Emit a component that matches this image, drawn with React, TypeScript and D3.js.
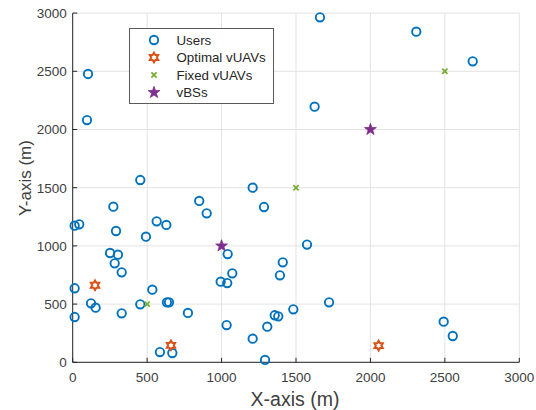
import React from "react";
import * as d3 from "d3";

const usersX = [103, 96, 454, 1209, 1661, 2308, 2687, 1625, 273, 13, 44, 291, 492, 564, 629, 850, 900, 1285, 251, 304, 282, 329, 13, 123, 154, 13, 329, 454, 535, 633, 647, 774, 586, 669, 1041, 994, 1038, 1072, 1034, 1209, 1292, 1307, 1574, 1411, 1392, 1722, 1482, 1357, 1381, 2492, 2553];
const usersY = [2477, 2081, 1566, 1500, 2964, 2840, 2586, 2196, 1337, 1174, 1185, 1128, 1079, 1211, 1180, 1386, 1280, 1334, 939, 925, 850, 773, 636, 507, 469, 389, 421, 498, 624, 515, 515, 424, 88, 80, 930, 693, 681, 764, 320, 203, 20, 306, 1011, 859, 747, 515, 455, 404, 395, 349, 226];
const optX = [150, 660, 2055];
const optY = [662, 146, 143];
const fixedX = [500, 1500, 2500];
const fixedY = [500, 1500, 2500];
const bsX = [1000, 2000];
const bsY = [1000, 2000];
const xTicks = [0, 500, 1000, 1500, 2000, 2500, 3000];
const yTicks = [0, 500, 1000, 1500, 2000, 2500, 3000];
const legendLabels = ["Users", "Optimal vUAVs", "Fixed vUAVs", "vBSs"];

const C_USER = "#0072BD";
const C_OPT = "#D95319";
const C_FIX = "#77AC30";
const C_BS = "#7E2F8E";
const FONT = "'Liberation Sans', Arial, Helvetica, sans-serif";

function starPath(points: number, rOuter: number, rInner: number) {
  const pts: [number, number][] = d3.range(points * 2).map((i) => {
    const a = (Math.PI * i) / points - Math.PI / 2;
    const r = i % 2 === 0 ? rOuter : rInner;
    return [r * Math.cos(a), r * Math.sin(a)];
  });
  return "M" + pts.map((p) => p.join(",")).join("L") + "Z";
}

const hexagram = starPath(6, 4.8, 4.8 / Math.sqrt(3));
const pentagram = starPath(5, 6.2, 6.2 * 0.4);

function UserMark({ x, y }: { x: number; y: number }) {
  return <circle cx={x} cy={y} r={4.2} fill="none" stroke={C_USER} strokeWidth={1.9} />;
}
function OptMark({ x, y }: { x: number; y: number }) {
  return <path d={hexagram} transform={`translate(${x},${y})`} fill="#fff" stroke={C_OPT} strokeWidth={2} strokeLinejoin="miter" />;
}
function FixMark({ x, y }: { x: number; y: number }) {
  const s = 2.6;
  return (
    <g transform={`translate(${x},${y})`} stroke={C_FIX} strokeWidth={1.7}>
      <line x1={-s} y1={-s} x2={s} y2={s} />
      <line x1={-s} y1={s} x2={s} y2={-s} />
    </g>
  );
}
function BsMark({ x, y }: { x: number; y: number }) {
  return <path d={pentagram} transform={`translate(${x},${y})`} fill={C_BS} stroke={C_BS} strokeWidth={0.8} />;
}

export default function App() {
  const W = 536, H = 410;
  const x = d3.scaleLinear().domain([0, 3000]).range([72.7, 519.3]);
  const y = d3.scaleLinear().domain([0, 3000]).range([362.3, 13.1]);
  const x0 = x(0), y0 = y(0);
  const axisColor = "#262626";
  const tickColor = "#404040";
  const legend = { x: 129.5, y: 28.5, w: 144, h: 75 };
  const rowY = [40, 57.5, 75, 92.5];
  const markX = 154;
  const textX = 176.5;

  return (
    <svg width={W} height={H} style={{ position: "absolute", left: 0, top: 0, background: "#fff" }} fontFamily={FONT}>
      <rect width={W} height={H} fill="#fff" />
      {/* grid */}
      <g stroke="#e3e3e3" strokeWidth={1}>
        {xTicks.map((t) => (
          <line key={"gx" + t} x1={x(t)} x2={x(t)} y1={y(0)} y2={y(3000)} />
        ))}
        {yTicks.map((t) => (
          <line key={"gy" + t} x1={x(0)} x2={x(3000)} y1={y(t)} y2={y(t)} />
        ))}
      </g>
      {/* axes */}
      <g stroke={axisColor} strokeWidth={1}>
        <line x1={x0} x2={x0} y1={y(3000)} y2={y0} />
        <line x1={x0} x2={x(3000)} y1={y0} y2={y0} />
        {xTicks.map((t) => (
          <line key={"tx" + t} x1={x(t)} x2={x(t)} y1={y0} y2={y0 - 4.5} />
        ))}
        {yTicks.map((t) => (
          <line key={"ty" + t} x1={x0} x2={x0 + 4.5} y1={y(t)} y2={y(t)} />
        ))}
      </g>
      <g fill={tickColor} fontSize={13.5}>
        {xTicks.map((t) => (
          <text key={"lx" + t} x={x(t)} y={y0 + 19.5} textAnchor="middle">{t}</text>
        ))}
        {yTicks.map((t) => (
          <text key={"ly" + t} x={x0 - 6} y={y(t) + 4.8} textAnchor="end">{t}</text>
        ))}
      </g>
      <text x={295} y={406} textAnchor="middle" fontSize={19.5} fill={tickColor}>X-axis (m)</text>
      <text transform={`translate(31,178) rotate(-90)`} textAnchor="middle" fontSize={17} fill={tickColor}>Y-axis (m)</text>
      {/* data */}
      <g>
        {usersX.map((v, i) => <UserMark key={"u" + i} x={x(v)} y={y(usersY[i])} />)}
        {optX.map((v, i) => <OptMark key={"o" + i} x={x(v)} y={y(optY[i])} />)}
        {fixedX.map((v, i) => <FixMark key={"f" + i} x={x(v)} y={y(fixedY[i])} />)}
        {bsX.map((v, i) => <BsMark key={"b" + i} x={x(v)} y={y(bsY[i])} />)}
      </g>
      {/* legend */}
      <rect x={legend.x} y={legend.y} width={legend.w} height={legend.h} fill="#fff" stroke="#5a5a5a" strokeWidth={1} />
      <UserMark x={markX} y={rowY[0]} />
      <OptMark x={markX} y={rowY[1]} />
      <FixMark x={markX} y={rowY[2]} />
      <BsMark x={markX} y={rowY[3]} />
      <g fontSize={13.3} fill="#262626">
        {legendLabels.map((l, i) => (
          <text key={l} x={textX} y={rowY[i] + 4.7}>{l}</text>
        ))}
      </g>
    </svg>
  );
}
